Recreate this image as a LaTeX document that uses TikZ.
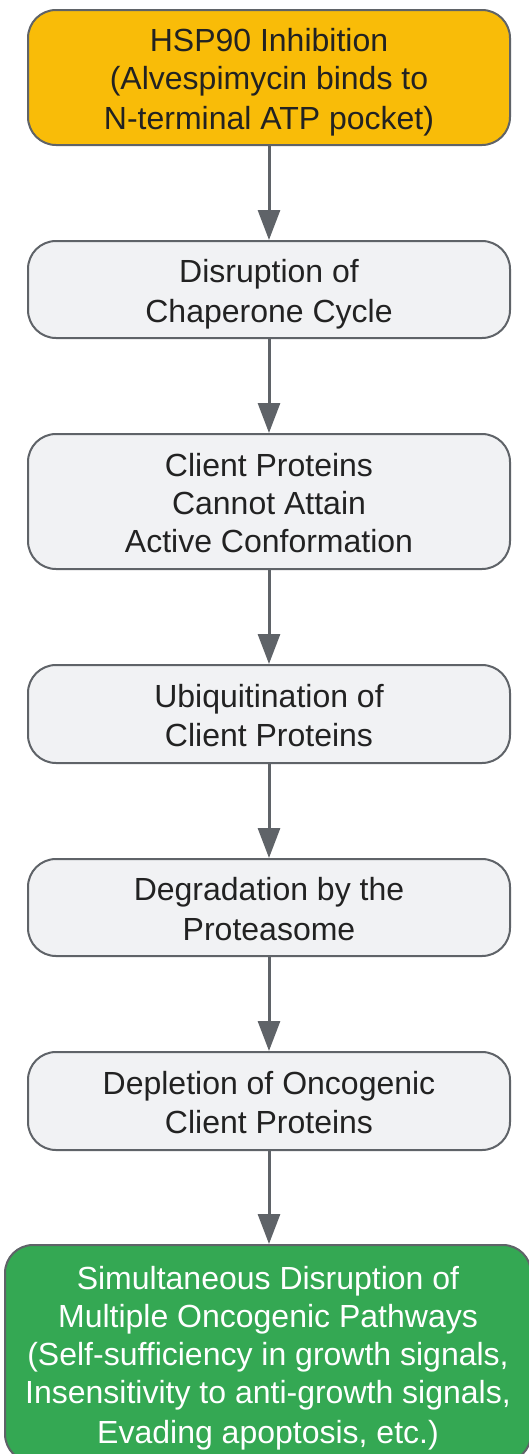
\documentclass[tikz,border=0pt]{standalone}
\usepackage{fontspec}
\setmainfont{Liberation Sans}
\usetikzlibrary{arrows.meta}
\definecolor{edgegray}{HTML}{5F6368}
\definecolor{boxgray}{HTML}{F1F2F4}
\definecolor{boxyellow}{HTML}{F9BC08}
\definecolor{boxgreen}{HTML}{34A853}
\definecolor{txtdark}{HTML}{222222}
\newcommand{\lnstrut}{\rule[-6pt]{0pt}{38pt}}
\begin{document}
\begin{tikzpicture}[x=1pt,y=1pt,
  flowbox/.style={draw=edgegray, line width=2pt, rounded corners=28pt, inner sep=0pt,
    align=center, minimum width=482pt, text=txtdark,
    font=\fontsize{32}{38}\selectfont},
  graybox/.style={flowbox, fill=boxgray},
  flowarrow/.style={draw=edgegray, line width=3pt, -{Triangle[width=22pt,length=30pt]}}
]
\useasboundingbox (0,0) rectangle (529,-1454);
\node[flowbox, fill=boxyellow, minimum height=135pt] (n1) at (269,-77.5)
  {\lnstrut HSP90 Inhibition\\(Alvespimycin binds to\\\lnstrut N-terminal ATP pocket)};
\node[graybox, minimum height=97pt] (n2) at (269,-289.5)
  {\lnstrut Disruption of\\\lnstrut Chaperone Cycle};
\node[graybox, minimum height=135pt] (n3) at (269,-501.5)
  {\lnstrut Client Proteins\\Cannot Attain\\\lnstrut Active Conformation};
\node[graybox, minimum height=98pt] (n4) at (269,-714)
  {\lnstrut Ubiquitination of\\\lnstrut Client Proteins};
\node[graybox, minimum height=97pt] (n5) at (269,-907.5)
  {\lnstrut Degradation by the\\\lnstrut Proteasome};
\node[graybox, minimum height=98pt] (n6) at (269,-1101)
  {\lnstrut Depletion of Oncogenic\\\lnstrut Client Proteins};
\node[flowbox, fill=boxgreen, text=white, minimum width=526pt, minimum height=217pt] (n7) at (268,-1353.5)
  {\lnstrut Simultaneous Disruption of\\Multiple Oncogenic Pathways\\(Self-sufficiency in growth signals,\\Insensitivity to anti-growth signals,\\\lnstrut Evading apoptosis, etc.)};
\draw[flowarrow] (n1.south) -- (n2.north);
\draw[flowarrow] (n2.south) -- (n3.north);
\draw[flowarrow] (n3.south) -- (n4.north);
\draw[flowarrow] (n4.south) -- (n5.north);
\draw[flowarrow] (n5.south) -- (n6.north);
\draw[flowarrow] (n6.south) -- (n7.north -| n6.south);
\end{tikzpicture}
\end{document}
